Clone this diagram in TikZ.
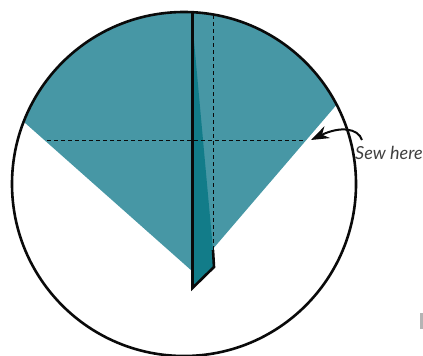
\documentclass[tikz,border=0pt]{standalone}
\usepackage{fontspec}
\setmainfont{Lato}
\usepackage{tikz}
\usetikzlibrary{arrows.meta, positioning}
\definecolor{ClothTeal}{HTML}{4797A5}
\definecolor{FoldTeal}{HTML}{127C89}
\definecolor{EdgeBlack}{HTML}{0A0A0A}
\definecolor{StrayGray}{HTML}{B4B4B4}
\tikzset{
    cloth/.style={fill=ClothTeal, draw=none},
    fold/.style={fill=FoldTeal, draw=none},
    edge_k/.style={draw=EdgeBlack, line width=2.6pt, line join=miter},
    sewline/.style={draw=EdgeBlack, line width=0.9pt, dash pattern=on 4pt off 3pt},
    arr/.style={-{Stealth[length=18pt, width=13pt]}, line width=2pt, draw=EdgeBlack},
    lbl/.style={font=\fontsize{18}{20}\selectfont\itshape, text=black!75, inner sep=0pt},
}
\begin{document}
\begin{tikzpicture}[x=1pt, y=-1pt]
\useasboundingbox (0,0) rectangle (423,356);
% Cloth
\fill[cloth] (192,271) -- (24,122) arc[start angle=201.2, end angle=332.4, radius=172] -- (212,250) -- cycle;
% Fold
\fill[fold] (193,30) -- (213,250) -- (214,267) -- (192,288) -- cycle;
% Sewing lines
\draw[sewline] (47,140) -- (305,140);
\draw[sewline] (213,15) -- (213,250);
% Plate
\draw[edge_k] (184,184) circle[radius=172];
% Centre fold
\draw[edge_k] (192.5,12) -- (192.5,288) -- (214,267) -- (213,250);
% Label
\node[lbl, anchor=west] (sew) at (355,153) {Sew here};
\coordinate (seam) at (311,140);
\draw[arr] (362,140) .. controls (358,128) and (340,126) .. (seam);
% Edge of next page
\fill[StrayGray] (420,313) rectangle (423,329);
\end{tikzpicture}
\end{document}
